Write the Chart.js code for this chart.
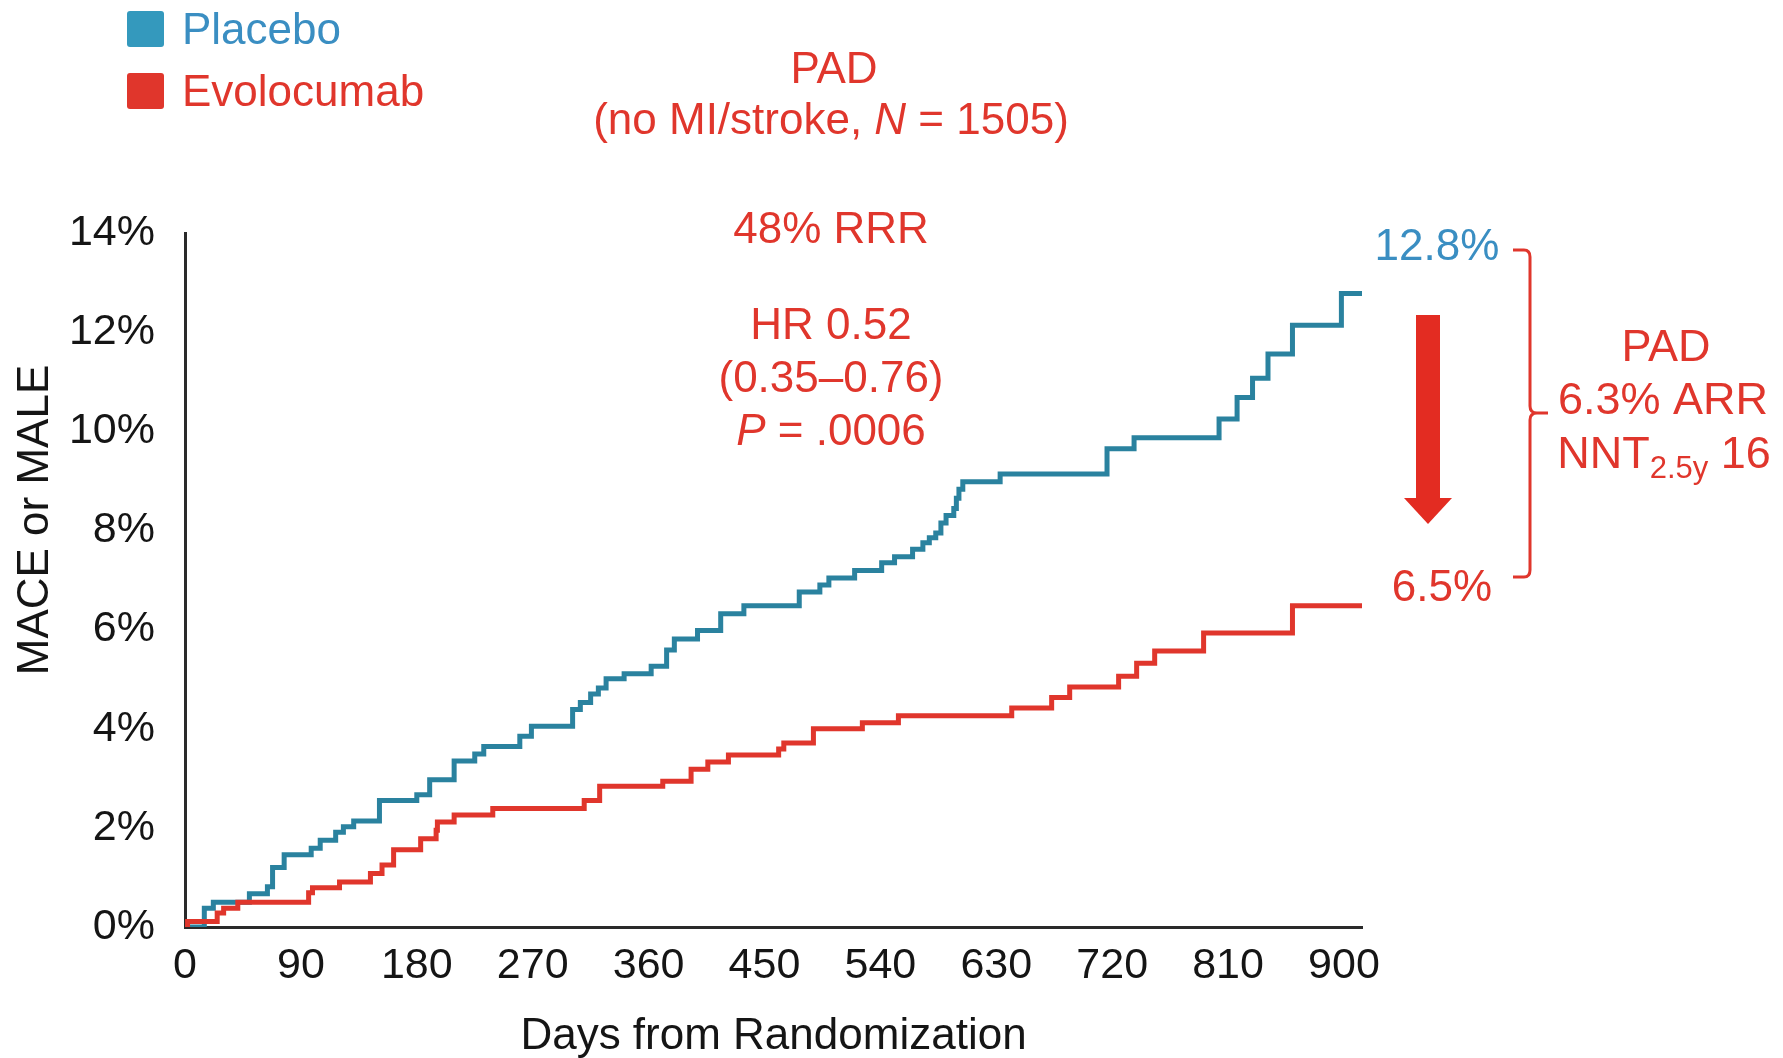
<!DOCTYPE html>
<html><head><meta charset="utf-8">
<script src="https://cdn.jsdelivr.net/npm/chart.js@4.4.1/dist/chart.umd.min.js"></script>
<style>html,body{margin:0;padding:0;background:#fff}</style>
</head><body>
<canvas id="c" width="1783" height="1058"></canvas>
<script>
// ---- data ----
const seriesNames = ['Placebo', 'Evolocumab'];
const placeboDays = [0, 15, 22, 50, 64, 68, 77, 98, 105, 117, 123, 131, 151, 180, 190, 209, 225, 232, 260, 269, 301, 307, 315, 321, 327, 341, 362, 374, 380, 398, 416, 434, 477, 493, 500, 520, 541, 551, 565, 573, 578, 583, 587, 591, 597, 599, 601, 604, 633, 716, 737, 803, 817, 829, 841, 860, 898, 914];
const placeboPct = [0, 0.38, 0.5, 0.67, 0.81, 1.2, 1.46, 1.59, 1.75, 1.91, 2.02, 2.14, 2.55, 2.67, 2.97, 3.35, 3.49, 3.64, 3.85, 4.05, 4.39, 4.53, 4.7, 4.82, 5.01, 5.11, 5.26, 5.59, 5.81, 5.98, 6.32, 6.48, 6.76, 6.9, 7.04, 7.19, 7.35, 7.47, 7.62, 7.75, 7.85, 7.95, 8.15, 8.3, 8.44, 8.65, 8.83, 8.98, 9.14, 9.65, 9.87, 10.25, 10.68, 11.07, 11.56, 12.14, 12.78, 12.78];
const evoDays = [0, 2, 25, 30, 41, 96, 99, 120, 144, 153, 162, 183, 195, 196, 209, 239, 310, 322, 371, 393, 406, 422, 461, 465, 488, 526, 554, 642, 673, 687, 725, 739, 753, 791, 860, 914];
const evoPct = [0, 0.11, 0.28, 0.38, 0.5, 0.69, 0.79, 0.91, 1.08, 1.25, 1.56, 1.78, 1.95, 2.12, 2.26, 2.39, 2.55, 2.84, 2.94, 3.18, 3.33, 3.47, 3.59, 3.71, 4.0, 4.12, 4.26, 4.42, 4.63, 4.84, 5.06, 5.32, 5.57, 5.93, 6.48, 6.48];
const xTicks = [0, 90, 180, 270, 360, 450, 540, 630, 720, 810, 900];
const yTicks = [0, 2, 4, 6, 8, 10, 12, 14];
const xMax = 914, yMax = 14;

const FONT = "'Liberation Sans', Arial, Helvetica, sans-serif";
const BLUE_LINE = '#2a829f';
const BLUE_TEXT = '#3a8ec2';
const BLUE_BOX = '#3499bd';
const RED = '#e0362c';
const INK = '#151515';
const DY = 3; // baseline nudge for annotation text

const toPts = (xs, ys) => xs.map((d, i) => ({x: d, y: ys[i]}));

const annot = {
  id: 'annot',
  afterDraw(chart) {
    const ctx = chart.ctx;
    function runs(list, cx, cy, color) {
      ctx.save();
      ctx.textBaseline = 'middle';
      ctx.textAlign = 'left';
      ctx.fillStyle = color;
      let w = 0;
      list.forEach(r => { ctx.font = (r.i ? 'italic ' : '') + r.s + 'px ' + FONT; r.w = ctx.measureText(r.t).width; w += r.w; });
      let x = cx - w / 2;
      list.forEach(r => { ctx.font = (r.i ? 'italic ' : '') + r.s + 'px ' + FONT; ctx.fillText(r.t, x, cy + DY + (r.dy || 0)); x += r.w; });
      ctx.restore();
    }
    // legend
    const ds = chart.data.datasets;
    const legendColors = [BLUE_BOX, RED];
    const legendText = [BLUE_TEXT, RED];
    const legendY = [29, 91];
    ds.forEach((d, i) => {
      ctx.save();
      ctx.fillStyle = legendColors[i];
      ctx.beginPath();
      if (ctx.roundRect) ctx.roundRect(127, legendY[i] - 18, 37, 36, 3); else ctx.rect(127, legendY[i] - 18, 37, 36);
      ctx.fill();
      ctx.font = '44px ' + FONT;
      ctx.fillStyle = legendText[i];
      ctx.textBaseline = 'middle';
      ctx.fillText(d.label, 182, legendY[i] + DY);
      ctx.restore();
    });
    // center annotations
    runs([{t: 'PAD', s: 44}], 834, 68, RED);
    runs([{t: '(no MI/stroke, ', s: 44}, {t: 'N', s: 44, i: true}, {t: ' = 1505)', s: 44}], 831, 119, RED);
    runs([{t: '48% RRR', s: 44}], 831, 228, RED);
    runs([{t: 'HR 0.52', s: 44}], 831, 324, RED);
    runs([{t: '(0.35\u20130.76)', s: 44}], 831, 377, RED);
    runs([{t: 'P', s: 44, i: true}, {t: ' = .0006', s: 44}], 831, 430, RED);
    // end labels
    runs([{t: '12.8%', s: 44}], 1437, 245, BLUE_TEXT);
    runs([{t: '6.5%', s: 44}], 1442, 586, RED);
    // arrow
    ctx.save();
    ctx.fillStyle = '#e32c22';
    ctx.fillRect(1416, 315, 24, 186);
    ctx.beginPath();
    ctx.moveTo(1404, 498); ctx.lineTo(1452, 498); ctx.lineTo(1428, 524); ctx.closePath();
    ctx.fill();
    ctx.restore();
    // bracket
    ctx.save();
    ctx.strokeStyle = RED;
    ctx.lineWidth = 3;
    ctx.beginPath();
    ctx.moveTo(1513, 250); ctx.lineTo(1524, 250); ctx.quadraticCurveTo(1530, 250, 1530, 257);
    ctx.lineTo(1530, 406); ctx.quadraticCurveTo(1530, 413, 1537, 413); ctx.lineTo(1548, 413);
    ctx.moveTo(1537, 413); ctx.quadraticCurveTo(1530, 413, 1530, 420);
    ctx.lineTo(1530, 570); ctx.quadraticCurveTo(1530, 577, 1524, 577); ctx.lineTo(1513, 577);
    ctx.stroke();
    ctx.restore();
    // right block
    runs([{t: 'PAD', s: 45}], 1666, 346, RED);
    runs([{t: '6.3% ARR', s: 45}], 1663, 399, RED);
    runs([{t: 'NNT', s: 45}, {t: '2.5y', s: 31, dy: 13}, {t: ' 16', s: 45}], 1664, 453, RED);
    // y title
    ctx.save();
    ctx.translate(36, 520);
    ctx.rotate(-Math.PI / 2);
    ctx.font = '44px ' + FONT;
    ctx.fillStyle = INK;
    ctx.textAlign = 'center';
    ctx.textBaseline = 'middle';
    ctx.fillText('MACE or MALE', 0, 0);
    ctx.restore();
  }
};

new Chart(document.getElementById('c'), {
  type: 'line',
  data: {
    datasets: [
      {label: seriesNames[0], data: toPts(placeboDays, placeboPct), borderColor: BLUE_LINE, borderWidth: 5, stepped: true, pointRadius: 0, fill: false, order: 2},
      {label: seriesNames[1], data: toPts(evoDays, evoPct), borderColor: RED, borderWidth: 5, stepped: true, pointRadius: 0, fill: false, order: 1}
    ]
  },
  options: {
    responsive: false,
    animation: false,
    devicePixelRatio: 1,
    layout: {padding: {top: 233, right: 421, left: 0, bottom: 0}},
    plugins: {legend: {display: false}, tooltip: {enabled: false}},
    scales: {
      x: {
        type: 'linear', min: 0, max: xMax,
        grid: {display: false, drawTicks: false},
        border: {display: true, color: '#2a2a2a', width: 3},
        ticks: {font: {family: FONT, size: 43}, color: INK, padding: 13, maxRotation: 0, autoSkip: false},
        afterBuildTicks: s => { s.ticks = xTicks.map(v => ({value: v})); },
        afterFit: s => { s.height = 131; },
        title: {display: true, text: 'Days from Randomization', font: {family: FONT, size: 44}, color: INK, padding: {top: 0, bottom: -5}}
      },
      y: {
        type: 'linear', min: 0, max: yMax,
        grid: {display: false, drawTicks: false},
        border: {display: true, color: '#2a2a2a', width: 3},
        ticks: {font: {family: FONT, size: 43}, color: INK, padding: 30, callback: v => v + '%'},
        afterBuildTicks: s => { s.ticks = yTicks.map(v => ({value: v})); },
        afterFit: s => { s.width = 185; }
      }
    }
  },
  plugins: [annot]
});
</script>
</body></html>
